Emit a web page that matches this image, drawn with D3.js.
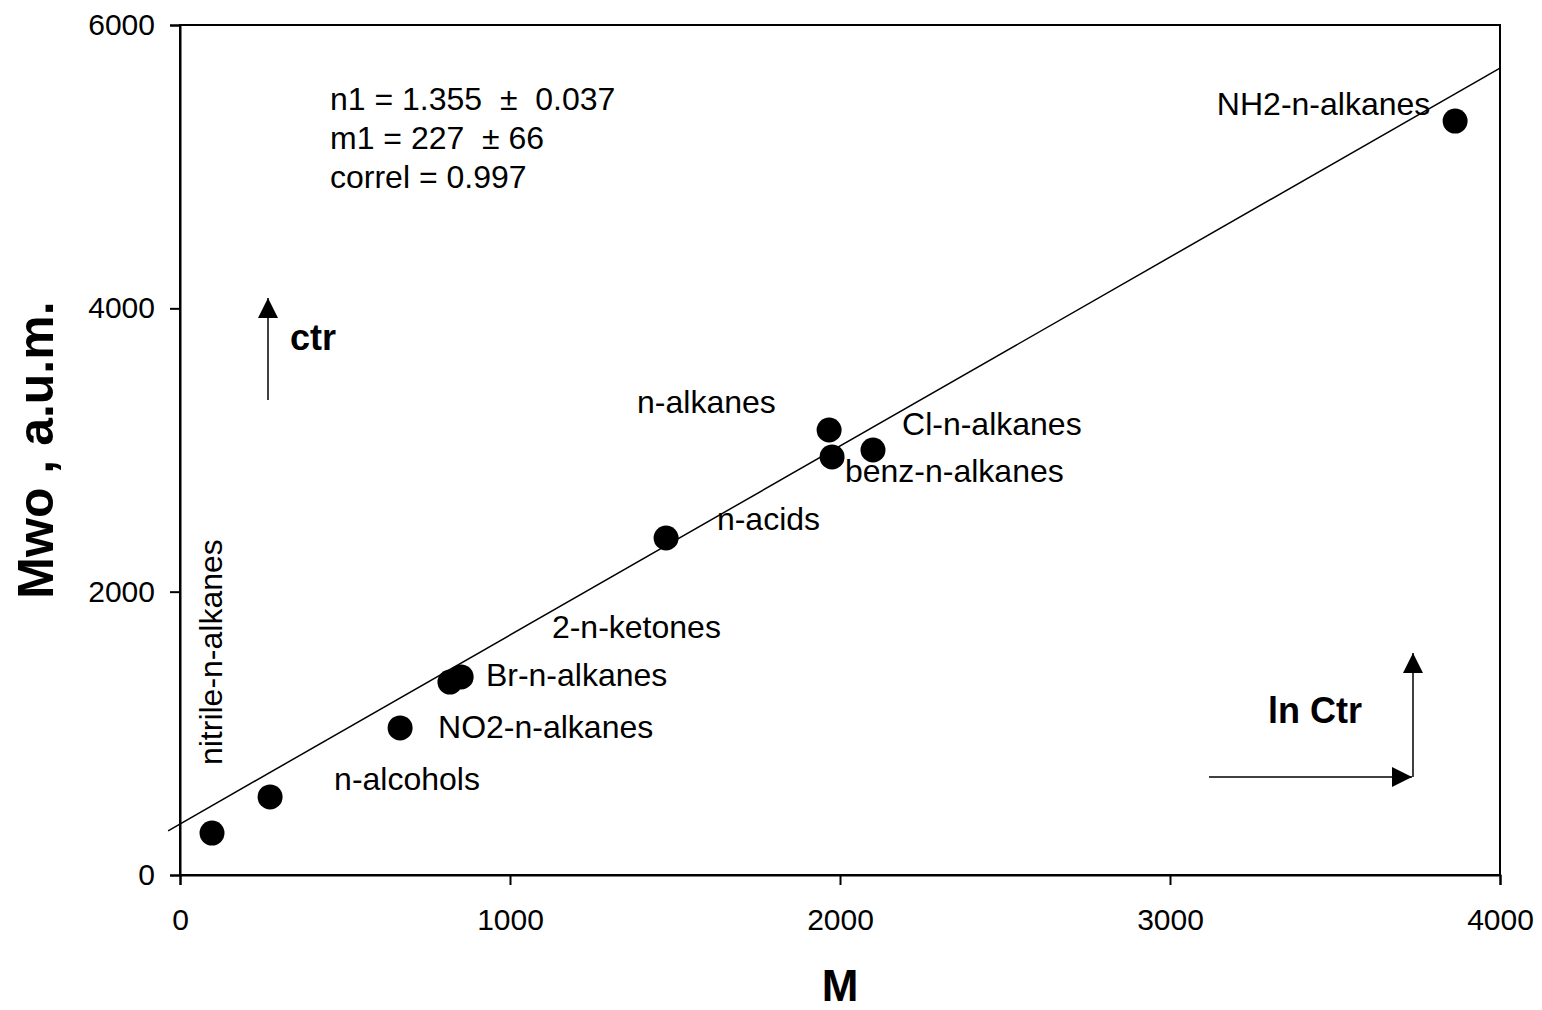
<!DOCTYPE html>
<html>
<head>
<meta charset="utf-8">
<script src="https://cdn.jsdelivr.net/npm/d3@7"></script>
<style>
  body { margin: 0; background: #fff; }
  svg { font-family: Arial, "Liberation Sans", sans-serif; }
</style>
</head>
<body>
<svg width="1542" height="1010"></svg>
<script>
// Data
const groups = ["nitrile-n-alkanes", "n-alcohols", "NO2-n-alkanes", "2-n-ketones", "Br-n-alkanes",
                "n-acids", "n-alkanes", "benz-n-alkanes", "Cl-n-alkanes", "NH2-n-alkanes"];
const M   = [97, 273, 667, 818, 852, 1473, 1967, 1976, 2100, 3864];
const Mwo = [296, 551, 1038, 1362, 1398, 2379, 3141, 2951, 3000, 5322];

// where each label sits, in data units (left / baseline)
const labelM   = [127, 467, 782, 1127, 927, 1627, 1385, 2015, 2188, 3142];
const labelMwo = [776, 600, 967, 1673, 1334, 2435, 3261, 2774, 3106, 5365];

// fitted line ends
const fitM   = [-36, 4000];
const fitMwo = [312, 5696];

const xTicks = [0, 1000, 2000, 3000, 4000];
const yTicks = [0, 2000, 4000, 6000];
const stats = ["n1 = 1.355  \u00b1  0.037", "m1 = 227  \u00b1 66", "correl = 0.997"];

const svg = d3.select("svg");

const x = d3.scaleLinear().domain([0, 4000]).range([180, 1500]);
const y = d3.scaleLinear().domain([0, 6000]).range([875, 25]);

// frame
svg.append("rect")
    .attr("x", x(0)).attr("y", y(6000))
    .attr("width", x(4000) - x(0)).attr("height", y(0) - y(6000))
    .attr("fill", "none").attr("stroke", "#000").attr("stroke-width", 2);

// axes
const xAxis = svg.append("g")
    .attr("transform", `translate(0,${y(0)})`)
    .call(d3.axisBottom(x).tickValues(xTicks).tickSize(10).tickPadding(24).tickFormat(d3.format("d")));
const yAxis = svg.append("g")
    .attr("transform", `translate(${x(0)},0)`)
    .call(d3.axisLeft(y).tickValues(yTicks).tickSize(10).tickPadding(15).tickFormat(d3.format("d")));

[xAxis, yAxis].forEach(g => {
    g.select(".domain").attr("stroke-width", 2);
    g.selectAll(".tick line").attr("stroke-width", 2);
    g.selectAll(".tick text").style("font-size", "30px").attr("fill", "#000")
        .style("font-family", "Arial, 'Liberation Sans', sans-serif");
});

// fitted line
svg.append("line")
    .attr("x1", x(fitM[0])).attr("y1", y(fitMwo[0]))
    .attr("x2", x(fitM[1])).attr("y2", y(fitMwo[1]))
    .attr("stroke", "#000").attr("stroke-width", 1.5);

// points
svg.selectAll("circle.pt")
    .data(M)
    .enter()
    .append("circle")
    .attr("class", "pt")
    .attr("cx", d => x(d))
    .attr("cy", (d, i) => y(Mwo[i]))
    .attr("r", 12.5)
    .attr("fill", "#000");

// group labels
svg.selectAll("text.lab")
    .data(groups)
    .enter()
    .append("text")
    .attr("class", "lab")
    .attr("transform", (d, i) => `translate(${x(labelM[i])},${y(labelMwo[i])})` + (i === 0 ? " rotate(-90)" : ""))
    .style("font-size", "32px")
    .text(d => d);

// fit statistics
svg.append("g").selectAll("text")
    .data(stats)
    .enter()
    .append("text")
    .attr("x", 330)
    .attr("y", (d, i) => 110 + i * 39)
    .style("font-size", "32px")
    .style("white-space", "pre")
    .attr("xml:space", "preserve")
    .text(d => d);

// arrows
const defs = svg.append("defs");
defs.append("marker")
    .attr("id", "head")
    .attr("viewBox", "0 0 10 10")
    .attr("refX", 10).attr("refY", 5)
    .attr("markerWidth", 20).attr("markerHeight", 20)
    .attr("markerUnits", "userSpaceOnUse")
    .attr("orient", "auto")
    .append("path").attr("d", "M0,0 L10,5 L0,10 Z").attr("fill", "#000");

svg.append("line")
    .attr("x1", 268).attr("y1", 400).attr("x2", 268).attr("y2", 298)
    .attr("stroke", "#000").attr("stroke-width", 1.5).attr("marker-end", "url(#head)");
svg.append("text").attr("x", 290).attr("y", 350)
    .style("font-size", "36px").style("font-weight", "bold").text("ctr");

svg.append("line")
    .attr("x1", 1209).attr("y1", 777).attr("x2", 1412).attr("y2", 777)
    .attr("stroke", "#000").attr("stroke-width", 1.5).attr("marker-end", "url(#head)");
svg.append("line")
    .attr("x1", 1413).attr("y1", 777).attr("x2", 1413).attr("y2", 653)
    .attr("stroke", "#000").attr("stroke-width", 1.5).attr("marker-end", "url(#head)");
svg.append("text").attr("x", 1268).attr("y", 723)
    .style("font-size", "36px").style("font-weight", "bold").text("ln Ctr");

// axis titles
svg.append("text")
    .attr("transform", `translate(53,${(y(0) + y(6000)) / 2}) rotate(-90)`)
    .attr("text-anchor", "middle")
    .style("font-size", "50px").style("font-weight", "bold")
    .text("Mwo , a.u.m.");
svg.append("text")
    .attr("x", (x(0) + x(4000)) / 2).attr("y", 1001)
    .attr("text-anchor", "middle")
    .style("font-size", "44px").style("font-weight", "bold")
    .text("M");
</script>
</body>
</html>
